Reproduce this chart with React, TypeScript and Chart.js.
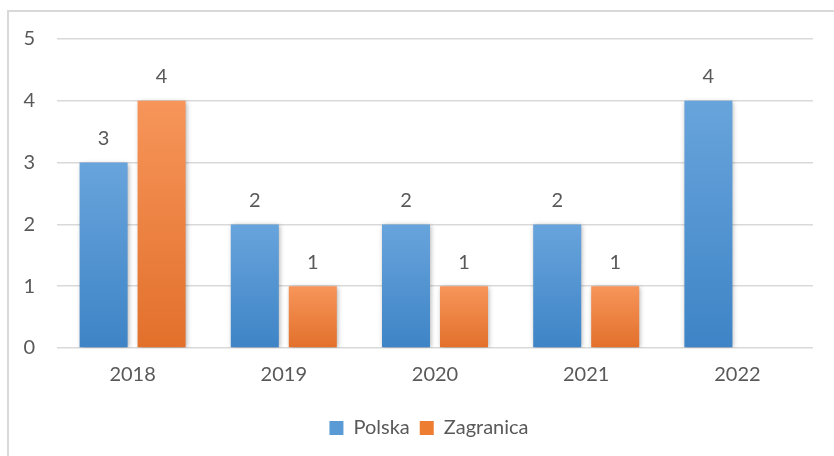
import React, { useEffect, useRef } from "react";
import { Chart, registerables } from "chart.js";

Chart.register(...registerables);

const categories = ["2018", "2019", "2020", "2021", "2022"];
const polska = [3, 2, 2, 2, 4];
const zagranica: (number | null)[] = [4, 1, 1, 1, null];
const yMin = 0;
const yMax = 5;
const yStep = 1;

const FONT = "Lato";
const TEXT = "#595959";
const SIZE = 20;

function barGradient(top: string, bottom: string) {
  return (ctx: any) => {
    const chart = ctx.chart;
    const y = chart.scales?.y;
    if (!chart.chartArea || !y || ctx.raw == null) return bottom;
    const yTop = y.getPixelForValue(ctx.raw);
    const yBot = y.getPixelForValue(0);
    if (!isFinite(yTop) || !isFinite(yBot) || yTop === yBot) return bottom;
    const g = chart.ctx.createLinearGradient(0, yTop, 0, yBot);
    g.addColorStop(0, top);
    g.addColorStop(1, bottom);
    return g;
  };
}

const decor = {
  id: "decor",
  afterLayout(chart: any) {
    if (chart.legend) {
      chart.legend.left += 18;
      chart.legend.right += 18;
    }
  },
  beforeDraw(chart: any) {
    const c = chart.ctx;
    c.save();
    c.strokeStyle = "#d9d9d9";
    c.lineWidth = 2;
    c.beginPath();
    c.moveTo(8, chart.height);
    c.lineTo(8, 11);
    c.lineTo(chart.width, 11);
    c.stroke();
    c.restore();
  },
  beforeDatasetsDraw(chart: any) {
    const c = chart.ctx;
    c.save();
    c.shadowColor = "rgba(0,0,0,0.35)";
    c.shadowBlur = 5;
    c.shadowOffsetX = 1;
    c.shadowOffsetY = 1;
  },
  afterDatasetsDraw(chart: any) {
    const c = chart.ctx;
    c.restore();
    c.save();
    c.fillStyle = TEXT;
    c.font = `${SIZE}px ${FONT}`;
    c.textAlign = "center";
    c.textBaseline = "middle";
    chart.data.datasets.forEach((ds: any, i: number) => {
      const meta = chart.getDatasetMeta(i);
      meta.data.forEach((el: any, j: number) => {
        const v = ds.data[j];
        if (v == null) return;
        c.fillText(String(v), el.x, el.y - 24);
      });
    });
    c.restore();
  },
};

export default function App() {
  const ref = useRef<HTMLCanvasElement>(null);
  useEffect(() => {
    if (!ref.current) return;
    const chart = new Chart(ref.current, {
      type: "bar",
      data: {
        labels: categories,
        datasets: [
          {
            label: "Polska",
            data: polska,
            backgroundColor: barGradient("#68a4dc", "#3e84c6"),
            categoryPercentage: 0.767,
            barPercentage: 0.828,
          },
          {
            label: "Zagranica",
            data: zagranica,
            backgroundColor: barGradient("#f7955a", "#e2702b"),
            categoryPercentage: 0.767,
            barPercentage: 0.828,
          },
        ],
      },
      options: {
        animation: false,
        responsive: true,
        maintainAspectRatio: false,
        layout: { padding: { left: 9, right: 21, top: 39, bottom: 8 } },
        plugins: {
          tooltip: { enabled: false },
          legend: {
            position: "bottom",
            labels: {
              font: { family: FONT, size: SIZE },
              color: TEXT,
              boxWidth: 14,
              boxHeight: 14,
              padding: 10,
              generateLabels: () => [
                { text: "Polska", fillStyle: "#5b9bd5", strokeStyle: "#5b9bd5", lineWidth: 0, datasetIndex: 0, fontColor: TEXT },
                { text: "Zagranica", fillStyle: "#ed7d31", strokeStyle: "#ed7d31", lineWidth: 0, datasetIndex: 1, fontColor: TEXT },
              ] as any,
            },
          },
        },
        scales: {
          x: {
            grid: { display: false, drawTicks: false },
            border: { display: false },
            ticks: { font: { family: FONT, size: SIZE }, color: TEXT, padding: 15 },
            afterFit: (s: any) => {
              s.height = 60;
            },
          },
          y: {
            min: yMin,
            max: yMax,
            grid: { color: "#d9d9d9", lineWidth: 1.5, drawTicks: false },
            border: { display: false },
            ticks: { stepSize: yStep, font: { family: FONT, size: SIZE }, color: TEXT, padding: 22 },
            afterFit: (s: any) => {
              s.width = 48;
            },
          },
        },
      },
      plugins: [decor],
    });
    return () => chart.destroy();
  }, []);
  return (
    <div style={{ position: "absolute", left: 0, top: 0, width: 834, height: 456, background: "#fff" }}>
      <canvas ref={ref} />
    </div>
  );
}
